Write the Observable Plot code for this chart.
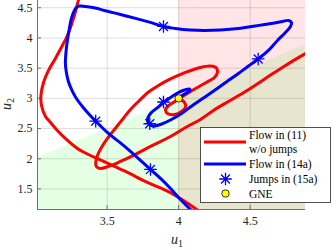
<!DOCTYPE html>
<html><head><meta charset="utf-8">
<script src="https://cdn.jsdelivr.net/npm/d3@7"></script>
<script src="https://cdn.jsdelivr.net/npm/@observablehq/plot@0.6"></script>
<style>
html,body{margin:0;padding:0;background:#fff;}
#chart{width:336px;height:250px;}
</style></head><body><div id="chart"></div>
<script>
// ---- data ----
const xTicks = [3.5, 4, 4.5];
const yTicks = [1.5, 2, 2.5, 3, 3.5, 4, 4.5];
const xDomain = [3.013, 4.887];
const yDomain = [1.16, 4.62];

// constraint boundary u2 = u1 - 1 (green region below it)
const constraintU1 = [2.9, 5.0];
const constraintU2 = [1.9, 4.0];
// region u1 >= 4 (pink)
const pinkU1 = [4.0, 5.0];
const pinkU2 = [1.0, 5.0];

// Flow in (11) w/o jumps: two trajectories
const redAU1 = [3.306,3.299,3.285,3.271,3.254,3.236,3.215,3.187,3.138,3.090,3.055,3.037,3.041,3.069,3.104,3.152,3.215,3.292,3.369,3.453,3.621,3.782,3.943,4.131,4.152];
const redAU2 = [4.670,4.621,4.497,4.373,4.248,4.124,4.000,3.876,3.661,3.462,3.263,3.048,2.882,2.700,2.601,2.469,2.320,2.171,2.071,1.980,1.798,1.608,1.437,1.152,1.111];

const redBU1 = [4.957,4.887,4.747,4.607,4.467,4.348,4.243,4.152,4.048,3.943,3.803,3.684,3.593,3.509,3.453,3.425,3.420,3.432,3.460,3.502,3.551,3.607,3.663,3.733,3.789,3.859,3.943,4.048,4.152,4.222,4.264,4.271,4.250,4.187,4.124,4.055,3.985,3.936,3.908,3.922,3.971,4.020,4.048,4.041,4.013];
const redBU2 = [3.842,3.743,3.545,3.329,3.114,2.949,2.800,2.651,2.518,2.369,2.204,2.055,1.955,1.873,1.840,1.870,1.940,2.055,2.187,2.336,2.485,2.651,2.816,2.982,3.106,3.214,3.321,3.429,3.512,3.536,3.503,3.429,3.346,3.255,3.172,3.073,2.965,2.891,2.816,2.750,2.733,2.783,2.849,2.932,2.982];

// Flow in (14a)
const blueU1 = [4.111,4.090,4.013,3.943,3.873,3.803,3.733,3.663,3.593,3.509,3.420,3.369,3.327,3.285,3.254,3.229,3.215,3.208,3.212,3.222,3.236,3.250,3.271,3.289,3.306,3.348,3.418,3.481,3.593,3.712,3.803,3.894,3.978,4.083,4.180,4.292,4.418,4.537,4.649,4.726,4.768,4.789,4.782,4.740,4.691,4.628,4.556,4.488,4.418,4.334,4.250,4.173,4.097,4.020,3.943,3.873,3.824,3.796,3.782,3.803,3.845,3.894,3.943,3.992,4.041,4.076,4.076,4.048,4.020,3.999];
const blueU2 = [1.095,1.144,1.326,1.508,1.674,1.823,1.972,2.121,2.262,2.419,2.623,2.750,2.866,2.998,3.131,3.280,3.429,3.578,3.760,3.959,4.157,4.323,4.455,4.513,4.530,4.522,4.497,4.455,4.389,4.315,4.257,4.190,4.157,4.132,4.124,4.132,4.157,4.199,4.240,4.273,4.290,4.257,4.190,4.075,3.959,3.793,3.652,3.536,3.412,3.272,3.131,3.007,2.882,2.750,2.642,2.568,2.543,2.568,2.651,2.750,2.833,2.932,3.015,3.089,3.139,3.156,3.122,3.081,3.040,2.998];

// Jumps in (15a)
const jumpU1 = [3.894, 4.556, 3.420, 3.803, 3.894, 3.798];
const jumpU2 = [4.190, 3.652, 2.623, 1.823, 2.940, 2.580];

// GNE
const gneU1 = [4.0];
const gneU2 = [3.0];

// legend labels
const legendLabels = ["Flow in (11)", "w/o jumps", "Flow in (14a)", "Jumps in (15a)", "GNE"];

// ---- build rows ----
const rows = (a, b) => a.map((u1, i) => ({u1, u2: b[i]}));
const redA = rows(redAU1, redAU2);
const redB = rows(redBU1, redBU2);
const blue = rows(blueU1, blueU2);
const jumps = rows(jumpU1, jumpU2);
const gne = rows(gneU1, gneU2);
const constraint = rows(constraintU1, constraintU2);
const pinkRect = [{x1: pinkU1[0], x2: pinkU1[1], y1: pinkU2[0], y2: pinkU2[1]}];

const asterisk = {
  draw(ctx, size) {
    const r = Math.sqrt(size / Math.PI), d = r * Math.SQRT1_2;
    ctx.moveTo(0, -r); ctx.lineTo(0, r);
    ctx.moveTo(-r, 0); ctx.lineTo(r, 0);
    ctx.moveTo(-d, -d); ctx.lineTo(d, d);
    ctx.moveTo(-d, d); ctx.lineTo(d, -d);
  }
};

const FONT = "'Liberation Serif', 'Times New Roman', serif";
const axisCol = "#707070";

const plot = Plot.plot({
  width: 336, height: 250,
  marginLeft: 37, marginRight: 31, marginTop: 0, marginBottom: 41,
  style: {fontFamily: FONT, fontSize: "12px", color: "#262626", background: "white", overflow: "visible"},
  x: {domain: xDomain, ticks: xTicks, tickSize: 0, tickPadding: 7, tickFormat: d => String(d), label: null},
  y: {domain: yDomain, ticks: yTicks, tickSize: 0, tickPadding: 5, tickFormat: d => String(d), label: null},
  marks: [
    Plot.areaY(constraint, {x: "u1", y: "u2", fill: "#00ff00", fillOpacity: 0.1, clip: true}),
    Plot.rect(pinkRect, {x1: "x1", x2: "x2", y1: "y1", y2: "y2", fill: "#ff0000", fillOpacity: 0.1, clip: true}),
    Plot.ruleX(xTicks, {x: d => d, stroke: "#262626", strokeOpacity: 0.15}),
    Plot.ruleY(yTicks, {y: d => d, stroke: "#262626", strokeOpacity: 0.15}),
    Plot.ruleX(xTicks, {x: d => d, y1: yDomain[0], y2: yDomain[0] + 0.066, stroke: axisCol}),
    Plot.ruleY(yTicks, {y: d => d, x1: xDomain[0], x2: xDomain[0] + 0.028, stroke: axisCol}),
    Plot.ruleX([xDomain[0]], {stroke: axisCol}),
    Plot.ruleY([yDomain[0]], {stroke: axisCol}),
    Plot.line(redA, {x: "u1", y: "u2", stroke: "#ff0000", strokeWidth: 3, curve: "catmull-rom", clip: true}),
    Plot.line(redB, {x: "u1", y: "u2", stroke: "#ff0000", strokeWidth: 3, curve: "catmull-rom", clip: true}),
    Plot.line(blue, {x: "u1", y: "u2", stroke: "#0000ff", strokeWidth: 3, curve: "catmull-rom", clip: true}),
    Plot.dot(jumps, {x: "u1", y: "u2", symbol: asterisk, r: 6.3, stroke: "#0000ff", fill: "none", strokeWidth: 1.3}),
    Plot.dot(gne, {x: "u1", y: "u2", r: 3.7, fill: "#ffff00", stroke: "#000", strokeWidth: 0.8})
  ]
});
document.getElementById("chart").appendChild(plot);

// ---- axis labels ----
const svg = d3.select(plot);
const xl = svg.append("text").attr("x", 177).attr("y", 244).attr("text-anchor", "middle")
  .attr("font-family", FONT).attr("font-size", 14).attr("fill", "#262626");
xl.append("tspan").attr("font-style", "italic").text("u");
xl.append("tspan").attr("font-size", 10).attr("dy", 3).text("1");
const yl = svg.append("text").attr("transform", "translate(11,104) rotate(-90)").attr("text-anchor", "middle")
  .attr("font-family", FONT).attr("font-size", 14).attr("fill", "#262626");
yl.append("tspan").attr("font-style", "italic").text("u");
yl.append("tspan").attr("font-size", 10).attr("dy", 3).text("2");

// ---- legend ----
const lg = svg.append("g").attr("font-family", FONT).attr("font-size", 11.5).attr("fill", "#000").attr("text-anchor", "start");
lg.append("rect").attr("x", 200.5).attr("y", 127.5).attr("width", 130).attr("height", 75)
  .attr("fill", "white").attr("stroke", "#262626").attr("stroke-width", 0.8);
lg.append("line").attr("x1", 204).attr("x2", 246).attr("y1", 142).attr("y2", 142).attr("stroke", "#ff0000").attr("stroke-width", 3);
lg.append("line").attr("x1", 204).attr("x2", 246).attr("y1", 164).attr("y2", 164).attr("stroke", "#0000ff").attr("stroke-width", 3);
const ast = d3.path(); asterisk.draw(ast, Math.PI * 6.3 * 6.3);
lg.append("path").attr("d", ast.toString()).attr("transform", "translate(225.5,179)").attr("stroke", "#0000ff").attr("stroke-width", 1.3).attr("fill", "none");
lg.append("circle").attr("cx", 225.5).attr("cy", 193.5).attr("r", 3.7).attr("fill", "#ffff00").attr("stroke", "#000").attr("stroke-width", 0.8);
const ly = [134.8, 148.8, 164, 179, 193.5];
legendLabels.forEach((t, i) => lg.append("text").attr("x", 249).attr("y", ly[i]).attr("dy", "0.35em").attr("text-anchor", "start").text(t));
</script></body></html>
